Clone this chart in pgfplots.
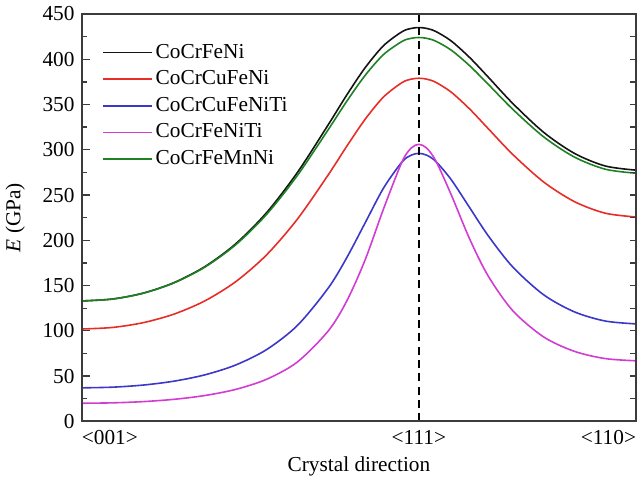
\documentclass[border=0pt]{standalone}
\usepackage{pgfplots}
\pgfplotsset{compat=1.18}
\usepackage{fontspec}
\setmainfont{Liberation Serif}

\definecolor{cBlack}{RGB}{20,20,20}
\definecolor{cRed}{RGB}{230,45,40}
\definecolor{cBlue}{RGB}{60,55,200}
\definecolor{cMag}{RGB}{210,60,210}
\definecolor{cGreen}{RGB}{30,130,35}
\definecolor{cAxis}{RGB}{60,60,60}

% theta (deg) along <001> -> <111> -> <110>, E in GPa
\begin{document}
\fontsize{16}{19}\selectfont
\begin{tikzpicture}
\begin{axis}[
  name=main,
  scale only axis,
  width=416.25pt, height=306pt,
  xmin=0, xmax=90, ymin=0, ymax=450,
  axis line style={cAxis, line width=1.3pt},
  xtick={0,54.74,90},
  xticklabels={\makebox[0pt][l]{<001>},<111>,\makebox[0pt][r]{<110>}},
  xtick style={draw=none},
  ytick={0,50,...,450},
  minor y tick num=1,
  ytick pos=left,
  tick align=inside,
  major tick length=6pt,
  minor tick length=3.5pt,
  tick style={cAxis, line width=1pt},
  /pgf/number format/assume math mode=true,
  tick label style={font=\fontsize{16}{19}\selectfont},
  xticklabel style={yshift=-1pt},
  xlabel={Crystal direction},
  ylabel={\textit{E} (GPa)},
  label style={font=\fontsize{16}{19}\selectfont},
  xlabel style={at={(axis description cs:0.5,0)}, anchor=center, yshift=-34pt},
  ylabel style={at={(axis description cs:0,0.5)}, anchor=center, yshift=50pt},
  every axis plot/.append style={line width=1.2pt, no markers},
  legend style={at={(0.029,0.94)}, anchor=north west, draw=none, fill=none,
    row sep=3pt, font=\fontsize{16}{19}\selectfont},
  legend cell align=left,
  legend image code/.code={\draw[#1] (0pt,0pt) -- (37pt,0pt);},
]
\addplot[cBlack, smooth] coordinates {
 (0,133.0) (5,135.13) (10,141.70) (15,153.32) (20,171.01) (25,196.21)
 (30,230.53) (35,274.87) (40,327.49) (43,360.24) (46,390.57) (49,415.02)
 (52,430.40) (53.5,434.07) (54.74,435.0) (56,434.05) (57.5,430.61) (60,420.10)
 (63,401.77) (66,380.24) (70,351.05) (75,319.28) (80,296.00) (85,282.08) (90,277.48)};
\addplot[cRed, smooth] coordinates {
 (0,102.0) (5,103.72) (10,109.05) (15,118.54) (20,133.16) (25,154.35)
 (30,183.91) (35,223.37) (40,272.15) (43,303.64) (46,333.61) (49,358.36)
 (52,374.22) (53.5,378.03) (54.74,379.0) (56,378.02) (57.5,374.44) (60,363.57)
 (63,344.89) (66,323.31) (70,294.71) (75,264.39) (80,242.69) (85,229.93) (90,225.74)};
\addplot[cBlue, smooth] coordinates {
 (0,37.0) (5,37.75) (10,40.10) (15,44.42) (20,51.40) (25,62.29)
 (30,79.26) (35,105.87) (40,147.11) (43,180.51) (46,219.15) (49,257.74)
 (52,286.57) (53.5,294.06) (54.74,296.0) (56,294.03) (57.5,286.99) (60,266.82)
 (63,235.87) (66,204.99) (70,170.38) (75,139.80) (80,120.93) (85,110.81) (90,107.64)};
\addplot[cMag, smooth] coordinates {
 (0,20.0) (5,20.43) (10,21.80) (15,24.34) (20,28.54) (25,35.32)
 (30,46.46) (35,65.54) (40,99.76) (43,132.64) (46,178.28) (49,234.80)
 (52,286.73) (53.5,301.93) (54.74,306.0) (56,301.86) (57.5,287.56) (60,250.09)
 (63,201.20) (66,160.45) (70,122.10) (75,93.22) (80,77.32) (85,69.32) (90,66.88)};
\addplot[cGreen, smooth] coordinates {
 (0,133.0) (5,135.10) (10,141.59) (15,153.05) (20,170.45) (25,195.15)
 (30,228.61) (35,271.56) (40,322.11) (43,353.34) (46,382.11) (49,405.20)
 (52,419.68) (53.5,423.13) (54.74,424.0) (56,423.11) (57.5,419.88) (60,409.99)
 (63,392.71) (66,372.33) (70,344.59) (75,314.25) (80,291.91) (85,278.52) (90,274.08)};
\addplot[black, line width=1.2pt, dash pattern=on 6pt off 4pt, forget plot]
  coordinates {(54.74,0) (54.74,450)};
\legend{CoCrFeNi,CoCrCuFeNi,CoCrCuFeNiTi,CoCrFeNiTi,CoCrFeMnNi}
\end{axis}
\begin{axis}[
  scale only axis,
  width=416.25pt, height=306pt,
  xmin=0, xmax=90, ymin=0, ymax=450,
  axis line style={cAxis, line width=1.3pt},
  xtick=\empty,
  ytick={0,25,...,450},
  yticklabels={},
  ytick pos=right,
  tick align=inside,
  major tick length=4.5pt,
  tick style={cAxis, line width=1pt},
]
\end{axis}
\pgfresetboundingbox
\path ([xshift=-61.5pt, yshift=-43.5pt]main.south west)
  rectangle ([xshift=2.25pt, yshift=10.5pt]main.north east);
\end{tikzpicture}
\end{document}
